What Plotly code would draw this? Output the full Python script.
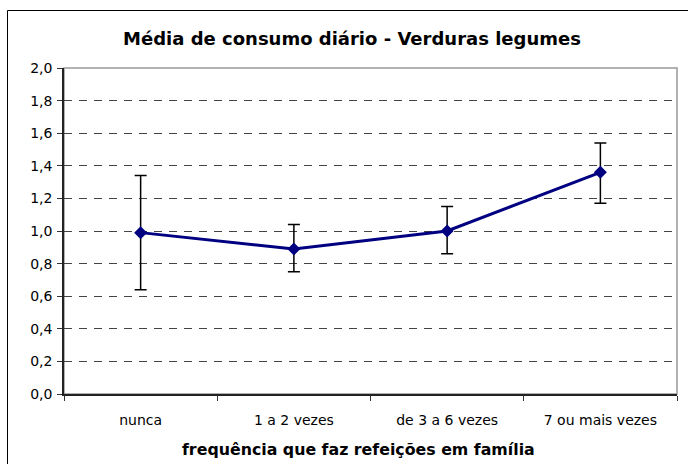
import plotly.graph_objects as go

categories = ["nunca", "1 a 2 vezes", "de 3 a 6 vezes", "7 ou mais vezes"]
means = [0.99, 0.89, 1.00, 1.36]
err_plus = [0.35, 0.15, 0.15, 0.18]
err_minus = [0.35, 0.14, 0.14, 0.19]
y_ticks = [0.0, 0.2, 0.4, 0.6, 0.8, 1.0, 1.2, 1.4, 1.6, 1.8, 2.0]
x_title = "frequência que faz refeições em família"

FONT = "DejaVu Sans, Arial, sans-serif"
W, H = 688, 464
L, R, T, B = 64, 11, 68, 70
pw, ph = W - L - R, H - T - B

def px_x(x):
    return (x - L) / pw

def px_y(y):
    return (H - B - y) / ph

fig = go.Figure()
fig.add_trace(go.Scatter(
    x=categories, y=means, mode="lines+markers",
    line=dict(color="#000080", width=3),
    marker=dict(symbol="diamond", size=10, color="#000080"),
    error_y=dict(type="data", symmetric=False, array=err_plus, arrayminus=err_minus,
                 color="black", thickness=1.5, width=6),
    showlegend=False,
))

fig.update_layout(
    width=W, height=H,
    margin=dict(l=L, r=R, t=T, b=B, autoexpand=False),
    paper_bgcolor="white", plot_bgcolor="white",
    separators=", ",
    font=dict(family=FONT, size=14, color="black"),
    title=dict(text="<b>Média de consumo diário - Verduras legumes</b>",
               font=dict(family=FONT, size=18, color="black"),
               x=(352) / W, xanchor="center", y=(H - 39) / H, yanchor="middle"),
    xaxis=dict(
        type="category", range=[-0.5, 3.5], tickson="boundaries", ticks="outside", ticklen=5,
        tickcolor="#333", showline=True, linecolor="#222", linewidth=1.5,
        showgrid=False, tickfont=dict(size=14), ticklabelstandoff=12,
    ),
    yaxis=dict(
        range=[0, 2.0], tickvals=y_ticks, tickformat=".1f", ticks="outside",
        ticklen=5, tickcolor="#333", showline=True, linecolor="#222", linewidth=1.5,
        showgrid=True, gridcolor="#444", griddash="8px,7px", gridwidth=1,
        zeroline=False, tickfont=dict(size=14), ticklabelstandoff=2,
    ),
    annotations=[
        dict(text="<b>" + x_title + "</b>", xref="paper", yref="paper",
             x=px_x(358), y=px_y(449), xanchor="center", yanchor="middle",
             showarrow=False, font=dict(family=FONT, size=15.8, color="black")),
    ],
    shapes=[
        dict(type="rect", xref="paper", yref="paper", x0=0, x1=1, y0=0, y1=1,
             line=dict(color="#999", width=1.5), layer="below"),
        dict(type="line", xref="paper", yref="paper",
             x0=px_x(7.5), x1=px_x(700), y0=px_y(10.5), y1=px_y(10.5),
             line=dict(color="black", width=1)),
        dict(type="line", xref="paper", yref="paper",
             x0=px_x(7.5), x1=px_x(7.5), y0=px_y(10.5), y1=px_y(480),
             line=dict(color="black", width=1)),
    ],
)

fig.write_html("out.html", config={"displayModeBar": False},
               post_script="document.body.style.margin='0px';")
